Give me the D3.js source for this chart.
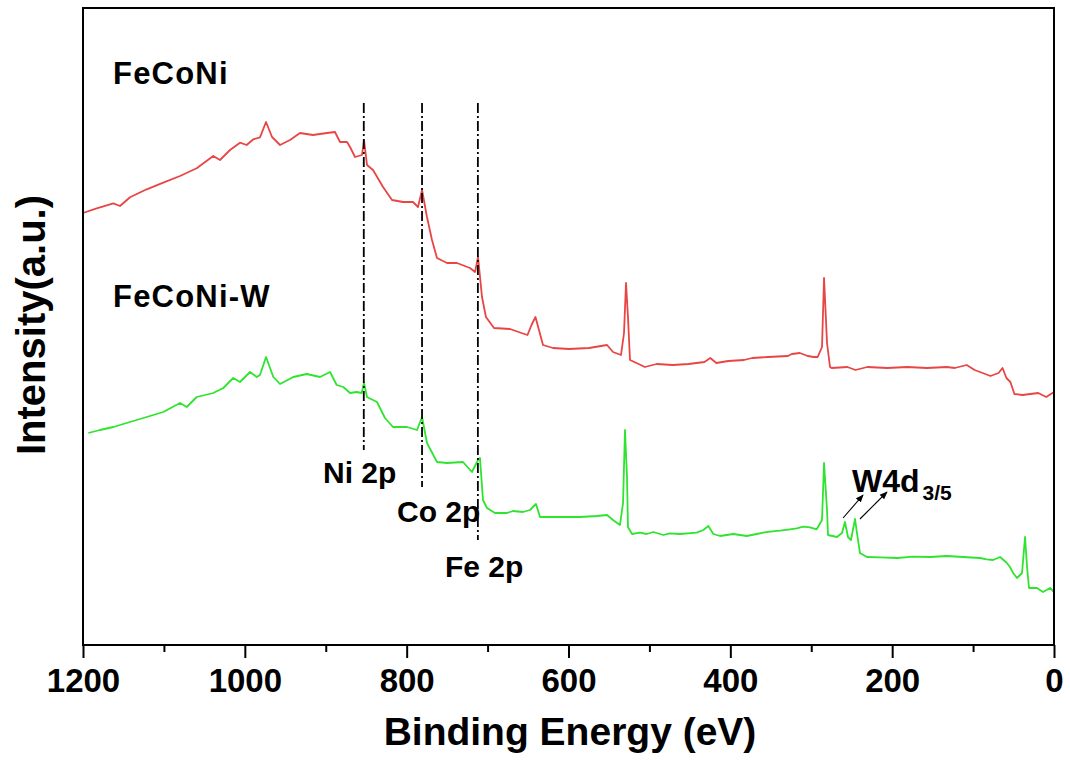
<!DOCTYPE html>
<html>
<head>
<meta charset="utf-8">
<script src="https://cdn.jsdelivr.net/npm/d3@7"></script>
<style>
  html, body { margin: 0; padding: 0; background: #fff; }
  svg { display: block; }
  text { font-family: "Liberation Sans", Arial, sans-serif; font-weight: bold; fill: #000; }
</style>
</head>
<body>
<svg id="chart" width="1070" height="760"></svg>
<script>
// ---- Data (binding energy eV, intensity a.u.) ----
const feconiEnergy = [1200,1183.1,1162.5,1154.3,1141.9,1121.3,1100.8,1080.1,1059.5,1039.0,1030.7,1018.3,1006.0,997.7,989.5,981.3,973.8,966.4,956.5,944.2,931.8,915.8,898.5,888.6,882.4,873.7,870.0,863.8,855.2,852.7,849.0,841.6,829.2,818.1,804.5,792.2,786.0,781.0,774.9,768.7,762.5,750.2,737.8,721.7,715.5,711.8,706.9,702.0,692.1,672.3,658.1,650.7,645.7,640.8,636.5,631.5,619.2,599.4,574.7,552.4,545.0,535.1,531.4,528.9,526.5,524.0,510.7,505.7,491.0,471.3,451.7,432.0,424.8,417.3,402.6,383.0,373.1,353.5,328.9,324.0,314.1,304.4,296.9,292.1,286.7,284.2,280.5,276.8,274.9,255.2,245.4,230.7,206.1,181.6,156.9,132.5,122.6,107.9,98.1,88.2,78.5,68.6,63.6,58.8,53.9,48.9,39.1,29.2,19.5,9.6,0];
const feconiIntensity = [432,436.7,441.7,439,447.7,455.7,462.3,469,476.7,489,485,495,502.3,500,505.7,507.7,523,508,500,505,512,510,512,513,503,503,498,488,490,505,480,475,458,445,443,443,438,455,428,405,387,382,382,377,373,388,348,328,317,316,312,310,320,328,315,300,297,296,297,300,293,290,312,362,328,285,280,278,281,280,281,283,287,282,284,285,287,288,289,291,292,289,288,288,298,367,302,278,277,278,275,278,277,278,277,278,277,280,275,272,269,272,277,267,263,251,250,251,252,248,253];

const feconiWEnergy = [1193.4,1179.0,1162.5,1141.9,1121.3,1100.8,1080.1,1071.8,1059.5,1039.0,1026.6,1014.3,1006.0,993.6,985.3,981.3,973.8,964.8,956.5,940.1,923.5,907.1,894.7,886.5,878.3,870.0,861.8,855.6,852.7,849.0,836.7,826.8,816.9,799.6,787.2,781.0,774.9,762.5,750.2,730.4,719.3,711.8,709.4,705.7,700.7,690.8,676.0,668.6,656.2,647.6,640.2,635.2,626.6,606.8,585.8,564.8,552.4,545.0,536.4,532.6,530.2,527.7,526.5,521.5,511.6,503.4,495.2,482.8,474.6,462.2,441.6,433.4,427.2,421.0,412.8,396.3,379.8,367.4,359.3,351.0,338.6,326.3,318.0,309.8,301.5,293.3,286.7,284.2,280.5,279.3,268.2,262.0,258.3,254.6,250.9,245.9,243.5,239.8,231.1,215.0,194.0,173.9,153.2,132.6,112.5,91.5,83.2,75.4,66.7,58.5,54.4,50.3,45.7,39.5,35.8,33.3,30.9,21.0,13.6,4.9,0];
const feconiWIntensity = [212,215,218,223,228,233,242,238,248,252,257,267,263,273,268,270,288,268,261,268,271,268,273,260,258,252,253,252,262,248,243,227,218,218,215,228,202,183,182,183,173,185,187,145,137,132,132,134,133,135,141,128,128,128,128,129,130,125,120,142,215,168,118,111,112.3,111,113,110,111.7,111,112.3,115,119,111,109,111,109,111,112.3,113.3,114.3,115.7,116.7,118.3,117.7,115.7,125,182,135,110,108,112,123,108,105,126,112,92,88,87.7,87,88.3,88,89,88,87,85.7,85,88,82.3,78,71.7,67,72,108,78,57,57,53,57,53];

const xMajorTicks = [1200,1000,800,600,400,200,0];
const xMinorTicks = [1100,900,700,500,300,100];

// peak reference lines: energy, top intensity, bottom intensity
const refEnergies = [853, 781, 712];
const refTops = [542, 542, 542];
const refBottoms = [195, 158, 105];

// peak labels
const peakLabels = ["Ni 2p", "Co 2p", "Fe 2p"];
const peakLabelE = [903.4, 811.9, 752.6];
const peakLabelI = [162, 123, 68];

// sample labels
const sampleNames = ["FeCoNi", "FeCoNi-W"];
const sampleLabelE = [1162.9, 1162.9];
const sampleLabelI = [561, 338];

// W4d arrows [E1, I1, E2, I2]
const arrowsW = [[260.7,127,236.0,150],[239.8,126,206.4,153]];

// ---- Layout ----
const svg = d3.select("#chart");
const mLeft = 83, mRight = 1054, mTop = 8, mBottom = 645;
const x = d3.scaleLinear().domain([1200, 0]).range([mLeft, mRight]);
const y = d3.scaleLinear().domain([0, 637]).range([mBottom, mTop]);

// spectra
const line = d3.line().x(d => x(d[0])).y(d => y(d[1]));
const redData = feconiEnergy.map((e, i) => [e, feconiIntensity[i]]);
const greenData = feconiWEnergy.map((e, i) => [e, feconiWIntensity[i]]);

svg.append("path").datum(redData).attr("d", line)
  .attr("fill", "none").attr("stroke", "#e84545").attr("stroke-width", 1.8).attr("stroke-linejoin", "round");
svg.append("path").datum(greenData).attr("d", line)
  .attr("fill", "none").attr("stroke", "#2fe42f").attr("stroke-width", 1.8).attr("stroke-linejoin", "round");

// reference dash-dot lines
refEnergies.forEach((e, i) => {
  svg.append("line")
    .attr("x1", x(e)).attr("x2", x(e))
    .attr("y1", y(refTops[i])).attr("y2", y(refBottoms[i]))
    .attr("stroke", "#000").attr("stroke-width", 1.8)
    .attr("stroke-dasharray", "10,3,2,3");
});

// frame
svg.append("rect").attr("x", mLeft).attr("y", mTop)
  .attr("width", mRight - mLeft).attr("height", mBottom - mTop)
  .attr("fill", "none").attr("stroke", "#000").attr("stroke-width", 2);

// x axis
const gMinor = svg.append("g").attr("transform", `translate(0,${mBottom})`)
  .call(d3.axisBottom(x).tickValues(xMinorTicks).tickSize(7).tickSizeOuter(0).tickFormat(""));
gMinor.select(".domain").remove();
gMinor.selectAll("line").attr("stroke-width", 2);

const gMajor = svg.append("g").attr("transform", `translate(0,${mBottom})`)
  .call(d3.axisBottom(x).tickValues(xMajorTicks).tickSize(13).tickSizeOuter(0).tickPadding(11).tickFormat(d3.format("d")));
gMajor.select(".domain").remove();
gMajor.selectAll("line").attr("stroke-width", 2);
gMajor.selectAll("text").attr("font-size", 33).attr("font-family", "'Liberation Sans', Arial, sans-serif")
  .attr("font-weight", "bold").attr("fill", "#000");

// axis titles
svg.append("text").attr("x", 570).attr("y", 745).attr("text-anchor", "middle")
  .attr("font-size", 39).text("Binding Energy (eV)");
svg.append("text").attr("transform", "translate(45,325) rotate(-90)").attr("text-anchor", "middle")
  .attr("font-size", 40).text("Intensity(a.u.)");

// sample labels
sampleNames.forEach((s, i) => {
  svg.append("text").attr("x", x(sampleLabelE[i])).attr("y", y(sampleLabelI[i]))
    .attr("font-size", 31).attr("letter-spacing", 1.2).text(s);
});

// peak labels
peakLabels.forEach((s, i) => {
  svg.append("text").attr("x", x(peakLabelE[i])).attr("y", y(peakLabelI[i]))
    .attr("font-size", 30).text(s);
});

// W4d label
const wt = svg.append("text").attr("x", x(249.6)).attr("y", y(153)).attr("font-size", 32);
wt.append("tspan").text("W4d");
wt.append("tspan").attr("font-size", 21).attr("dx", 3).attr("dy", 8).text("3/5");

// arrows
svg.append("defs").append("marker").attr("id", "arr")
  .attr("viewBox", "0 0 10 10").attr("refX", 9).attr("refY", 5)
  .attr("markerWidth", 8).attr("markerHeight", 8).attr("markerUnits", "userSpaceOnUse")
  .attr("orient", "auto")
  .append("path").attr("d", "M0,1 L10,5 L0,9 Z").attr("fill", "#000");
arrowsW.forEach(a => {
  svg.append("line").attr("x1", x(a[0])).attr("y1", y(a[1])).attr("x2", x(a[2])).attr("y2", y(a[3]))
    .attr("stroke", "#000").attr("stroke-width", 1.1).attr("marker-end", "url(#arr)");
});
</script>
</body>
</html>
